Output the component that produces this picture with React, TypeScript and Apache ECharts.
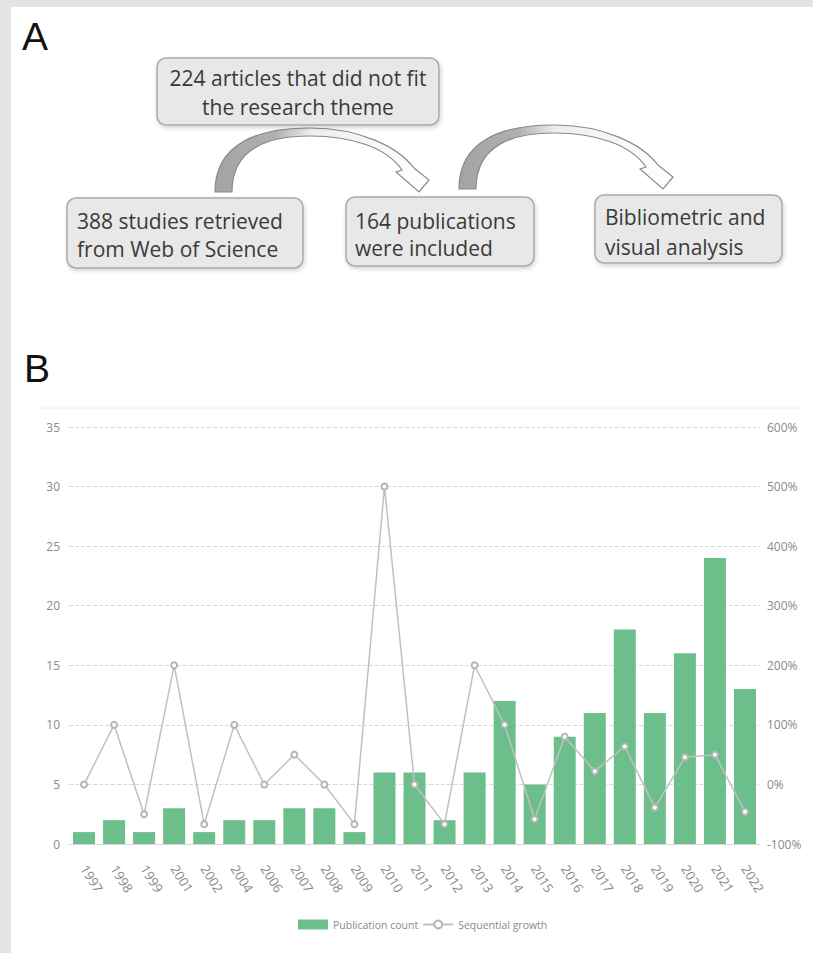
import React, { useEffect, useRef } from "react";
import * as echarts from "echarts";

// ---- Data ----
const years = [
  "1997", "1998", "1999", "2001", "2002", "2004", "2006", "2007", "2008", "2009",
  "2010", "2011", "2012", "2013", "2014", "2015", "2016", "2017", "2018", "2019",
  "2020", "2021", "2022",
];
const publicationCount = [1, 2, 1, 3, 1, 2, 2, 3, 3, 1, 6, 6, 2, 6, 12, 5, 9, 11, 18, 11, 16, 24, 13];
const sequentialGrowth = [
  0, 100, -50, 200, -66.7, 100, 0, 50, 0, -66.7, 500, 0, -66.7, 200, 100, -58.3, 80, 22.2, 63.6,
  -38.9, 45.5, 50, -45.8,
];
const seriesNames = ["Publication count", "Sequential growth"];
const flowTexts = [
  "224 articles that did not fit\nthe research theme",
  "388 studies retrieved\nfrom Web of Science",
  "164 publications\nwere included",
  "Bibliometric and\nvisual analysis",
];
const panelLabels = ["A", "B"];

// curved arrow outline (local coordinates, origin = outer left foot)
const ARROW_D =
  "M0 0 C0 -50 45 -64 95 -64 C145 -64 183 -45 199 -24 L214 -12 L204 0 L181 -20 L187 -22 C172 -44 138 -56 95 -56 C55 -56 17 -45 17 0 Z";

let shapeRegistered = false;
function ensureShape() {
  if (!shapeRegistered) {
    echarts.graphic.registerShape("curvedArrow", echarts.graphic.extendPath(ARROW_D, {}) as any);
    shapeRegistered = true;
  }
}

const FONT = '"Open Sans", "Noto Sans", sans-serif';

export default function App() {
  const ref = useRef<HTMLDivElement>(null);

  useEffect(() => {
    if (!ref.current) return;
    ensureShape();
    const chart = echarts.init(ref.current, undefined, { renderer: "svg" });

    const boxStyle = {
      fill: "#e8e8e8",
      stroke: "#a9a9a9",
      lineWidth: 1.5,
      shadowBlur: 4,
      shadowOffsetX: 1,
      shadowOffsetY: 2,
      shadowColor: "rgba(0,0,0,0.18)",
    };
    const boxes = [
      { x: 157, y: 58, w: 282, h: 67, tx: 298, ty: 92.5, align: "center", lh: 29 },
      { x: 67, y: 198, w: 236, h: 70, tx: 77, ty: 235, align: "left", lh: 28 },
      { x: 346, y: 197, w: 188, h: 69, tx: 355, ty: 234.5, align: "left", lh: 27 },
      { x: 595, y: 195, w: 187, h: 68, tx: 605, ty: 232, align: "left", lh: 30 },
    ];
    const arrowFill = new echarts.graphic.LinearGradient(0, 0, 1, 0, [
      { offset: 0, color: "#a3a3a3" },
      { offset: 0.28, color: "#b0b0b0" },
      { offset: 0.45, color: "#eeeeee" },
      { offset: 1, color: "#ffffff" },
    ]);

    const graphics: any[] = [
      { type: "rect", shape: { x: 0, y: 0, width: 11, height: 953 }, style: { fill: "#e4e4e4" }, silent: true },
      { type: "rect", shape: { x: 0, y: 0, width: 813, height: 7 }, style: { fill: "#e4e4e4" }, silent: true },
      {
        type: "text",
        x: 22,
        y: 36,
        style: { text: panelLabels[0], fontSize: 39, fontFamily: '"Liberation Sans", Arial, sans-serif', fill: "#111", textVerticalAlign: "middle" },
      },
      {
        type: "text",
        x: 24,
        y: 368,
        style: { text: panelLabels[1], fontSize: 39, fontFamily: '"Liberation Sans", Arial, sans-serif', fill: "#111", textVerticalAlign: "middle" },
      },
      { type: "line", shape: { x1: 37, y1: 408, x2: 800, y2: 408 }, style: { stroke: "#f0f0f0", lineWidth: 1 } },
      {
        type: "curvedArrow",
        x: 215,
        y: 192,
        style: { fill: arrowFill, stroke: "#8a8a8a", lineWidth: 1.2 },
      },
      {
        type: "curvedArrow",
        x: 459,
        y: 189,
        style: { fill: arrowFill, stroke: "#8a8a8a", lineWidth: 1.2 },
      },
    ];
    boxes.forEach((b, i) => {
      graphics.push({
        type: "rect",
        shape: { x: b.x, y: b.y, width: b.w, height: b.h, r: 9 },
        style: boxStyle,
      });
      graphics.push({
        type: "text",
        x: b.tx,
        y: b.ty,
        style: {
          text: flowTexts[i],
          fontSize: 21,
          fontFamily: FONT,
          fill: "#3a3a3a",
          lineHeight: b.lh,
          textAlign: b.align,
          textVerticalAlign: "middle",
        },
      });
    });

    const labelColor = "#8a8a8a";
    chart.setOption({
      animation: false,
      backgroundColor: "#ffffff",
      graphic: graphics,
      grid: { left: 69, right: 53, top: 427, bottom: 109 },
      legend: {
        data: [
          { name: seriesNames[0], icon: "rect" },
          { name: seriesNames[1] },
        ],
        left: 293,
        top: 914,
        itemWidth: 30,
        itemHeight: 10,
        itemGap: 4,
        textStyle: { fontSize: 10.5, color: labelColor, fontFamily: FONT },
      },
      xAxis: {
        type: "category",
        data: years,
        axisTick: { show: false },
        axisLine: { lineStyle: { color: "#d9d9d9", width: 1 } },
        axisLabel: { rotate: -58, interval: 0, fontSize: 13, color: labelColor, fontFamily: FONT, margin: 22 },
      },
      yAxis: [
        {
          type: "value",
          min: 0,
          max: 35,
          interval: 5,
          axisLine: { show: false },
          axisTick: { show: false },
          splitLine: { lineStyle: { type: "dashed", color: "#d9d9d9", width: 1 } },
          axisLabel: { fontSize: 12, color: labelColor, fontFamily: FONT, margin: 9 },
        },
        {
          type: "value",
          min: -100,
          max: 600,
          interval: 100,
          axisLine: { show: false },
          axisTick: { show: false },
          splitLine: { show: false },
          axisLabel: { formatter: "{value}%", fontSize: 12, color: labelColor, fontFamily: FONT, margin: 7 },
        },
      ],
      series: [
        {
          name: seriesNames[0],
          type: "bar",
          data: publicationCount,
          barWidth: 22,
          itemStyle: { color: "#6cbf8b" },
        },
        {
          name: seriesNames[1],
          type: "line",
          yAxisIndex: 1,
          data: sequentialGrowth,
          symbol: "emptyCircle",
          symbolSize: 6,
          lineStyle: { color: "#c0c0c0", width: 1.5 },
          itemStyle: { color: "#b5b5b5", borderWidth: 1 },
          z: 3,
        },
      ],
    });

    return () => chart.dispose();
  }, []);

  return (
    <div
      ref={ref}
      style={{ position: "absolute", left: 0, top: 0, width: 813, height: 953, background: "#fff" }}
    />
  );
}
